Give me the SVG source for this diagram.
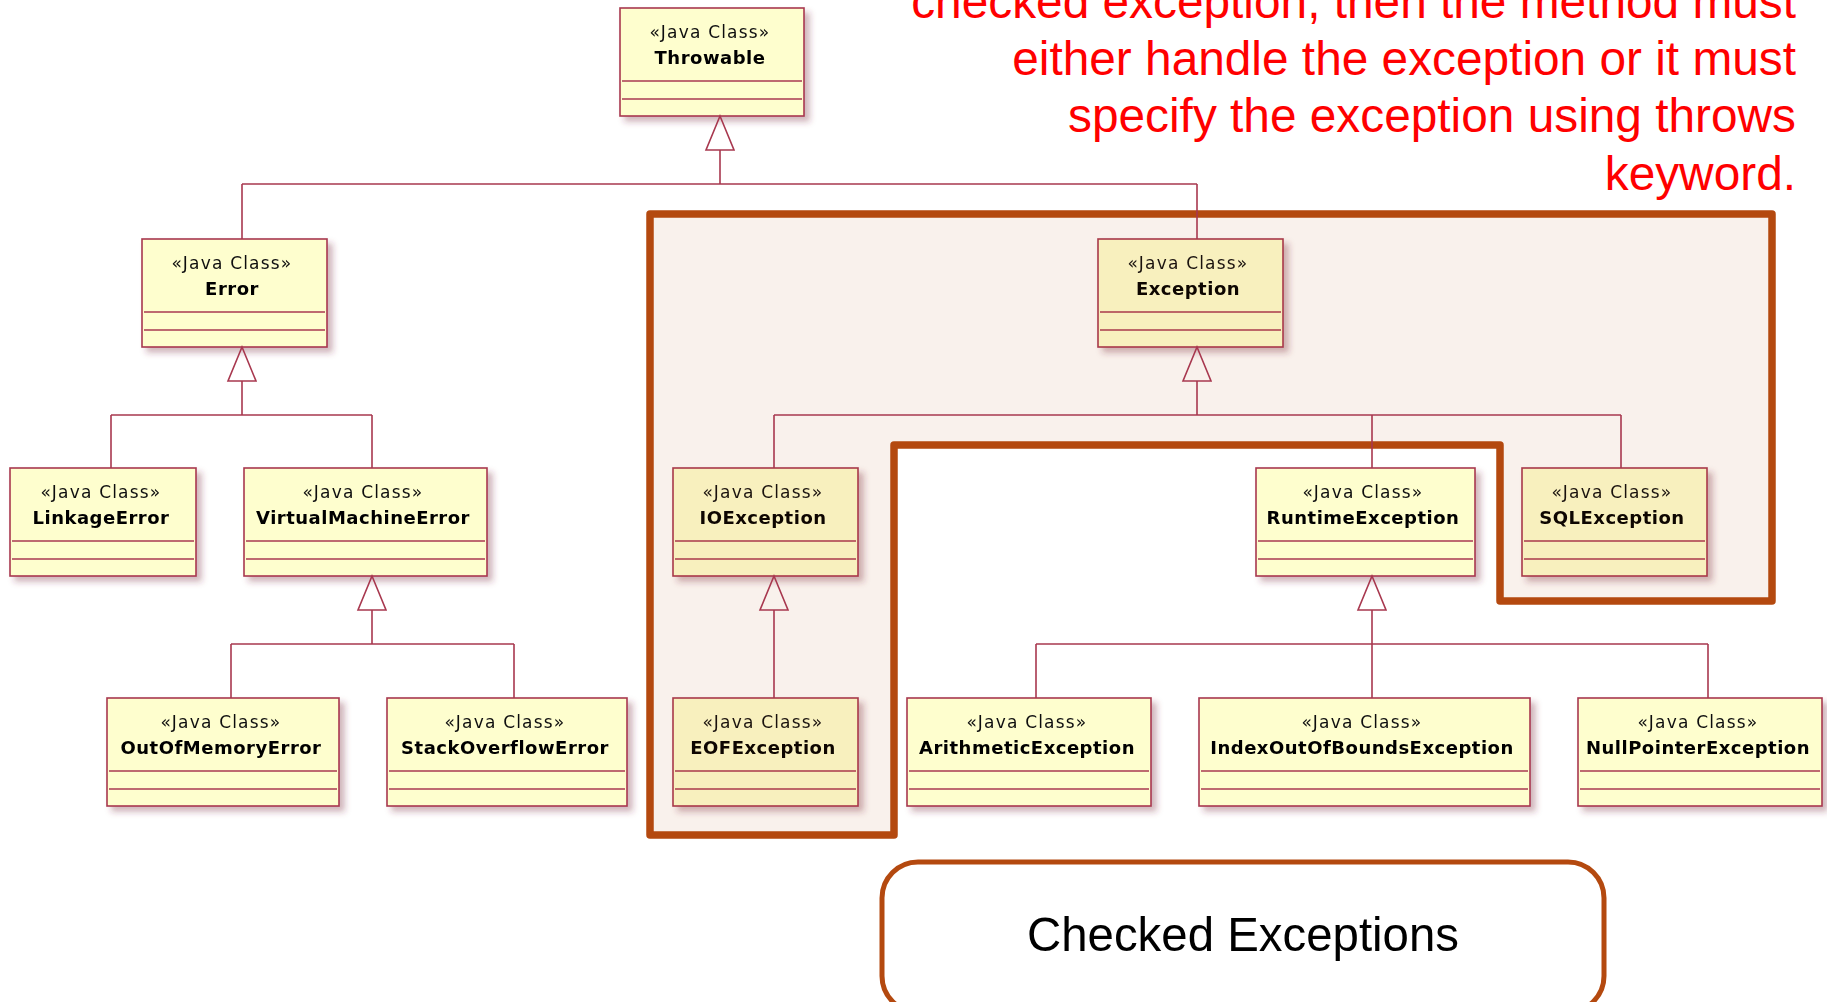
<svg xmlns="http://www.w3.org/2000/svg" width="1827" height="1002" viewBox="0 0 1827 1002">
  <defs>
    <filter id="shadow" x="-10%" y="-10%" width="130%" height="140%">
      <feDropShadow dx="5" dy="5" stdDeviation="3" flood-color="#7a2a3a" flood-opacity="0.35"/>
    </filter>
  </defs>
  <style>
    .box { fill: #FEFECE; stroke: #A8384F; stroke-width: 1.6; }
    .sep { stroke: #A8384F; stroke-width: 1.6; }
    .stereo { font-family: "DejaVu Sans", sans-serif; font-size: 17px; letter-spacing: 1.2px; fill: #111; text-anchor: middle; }
    .name { font-family: "DejaVu Sans", sans-serif; font-size: 18px; font-weight: bold; letter-spacing: 0.5px; fill: #000; text-anchor: middle; }
    .edge { fill: none; stroke: #A8384F; stroke-width: 1.6; }
    .tri { fill: none; stroke: #A8384F; stroke-width: 1.6; stroke-linejoin: miter; }
    .zone { fill: #B4490F; fill-opacity: 0.08; stroke: none; }
    .zone-line { fill: none; stroke: #B4490F; stroke-width: 7.5; stroke-linejoin: round; }
    .note { font-family: "Liberation Sans", Arial, sans-serif; font-size: 47.8px; fill: #FF0000; text-anchor: end; }
    .callout { fill: #FFFFFF; stroke: #B4490F; stroke-width: 5; }
    .callout-text { font-family: "Liberation Sans", Arial, sans-serif; font-size: 49px; fill: #000; text-anchor: middle; }
  </style>

  <rect width="1827" height="1002" fill="#FFFFFF"/>

  <!-- explanatory note, top right -->
  <g id="note">
    <text class="note" x="1796" y="18">checked exception, then the method must</text>
    <text class="note" x="1796" y="75">either handle the exception or it must</text>
    <text class="note" x="1796" y="132">specify the exception using throws</text>
    <text class="note" x="1796" y="190">keyword.</text>
  </g>

  <!-- class nodes: box 108 high, compartments at +73 and +91 -->
  <g id="throwable" filter="url(#shadow)">
    <rect class="box" x="620" y="8" width="184" height="108"/>
    <line class="sep" x1="622" y1="81" x2="802" y2="81"/>
    <line class="sep" x1="622" y1="99" x2="802" y2="99"/>
    <text class="stereo" x="710" y="38">«Java Class»</text>
    <text class="name" x="710" y="64">Throwable</text>
  </g>

  <g id="error" filter="url(#shadow)">
    <rect class="box" x="142" y="239" width="185" height="108"/>
    <line class="sep" x1="144" y1="312" x2="325" y2="312"/>
    <line class="sep" x1="144" y1="330" x2="325" y2="330"/>
    <text class="stereo" x="232" y="269">«Java Class»</text>
    <text class="name" x="232" y="295">Error</text>
  </g>

  <g id="exception" filter="url(#shadow)">
    <rect class="box" x="1098" y="239" width="185" height="108"/>
    <line class="sep" x1="1100" y1="312" x2="1281" y2="312"/>
    <line class="sep" x1="1100" y1="330" x2="1281" y2="330"/>
    <text class="stereo" x="1188" y="269">«Java Class»</text>
    <text class="name" x="1188" y="295">Exception</text>
  </g>

  <g id="linkage-error" filter="url(#shadow)">
    <rect class="box" x="10" y="468" width="186" height="108"/>
    <line class="sep" x1="12" y1="541" x2="194" y2="541"/>
    <line class="sep" x1="12" y1="559" x2="194" y2="559"/>
    <text class="stereo" x="101" y="498">«Java Class»</text>
    <text class="name" x="101" y="524">LinkageError</text>
  </g>

  <g id="virtual-machine-error" filter="url(#shadow)">
    <rect class="box" x="244" y="468" width="243" height="108"/>
    <line class="sep" x1="246" y1="541" x2="485" y2="541"/>
    <line class="sep" x1="246" y1="559" x2="485" y2="559"/>
    <text class="stereo" x="363" y="498">«Java Class»</text>
    <text class="name" x="363" y="524">VirtualMachineError</text>
  </g>

  <g id="io-exception" filter="url(#shadow)">
    <rect class="box" x="673" y="468" width="185" height="108"/>
    <line class="sep" x1="675" y1="541" x2="856" y2="541"/>
    <line class="sep" x1="675" y1="559" x2="856" y2="559"/>
    <text class="stereo" x="763" y="498">«Java Class»</text>
    <text class="name" x="763" y="524">IOException</text>
  </g>

  <g id="runtime-exception" filter="url(#shadow)">
    <rect class="box" x="1256" y="468" width="219" height="108"/>
    <line class="sep" x1="1258" y1="541" x2="1473" y2="541"/>
    <line class="sep" x1="1258" y1="559" x2="1473" y2="559"/>
    <text class="stereo" x="1363" y="498">«Java Class»</text>
    <text class="name" x="1363" y="524">RuntimeException</text>
  </g>

  <g id="sql-exception" filter="url(#shadow)">
    <rect class="box" x="1522" y="468" width="185" height="108"/>
    <line class="sep" x1="1524" y1="541" x2="1705" y2="541"/>
    <line class="sep" x1="1524" y1="559" x2="1705" y2="559"/>
    <text class="stereo" x="1612" y="498">«Java Class»</text>
    <text class="name" x="1612" y="524">SQLException</text>
  </g>

  <g id="out-of-memory-error" filter="url(#shadow)">
    <rect class="box" x="107" y="698" width="232" height="108"/>
    <line class="sep" x1="109" y1="771" x2="337" y2="771"/>
    <line class="sep" x1="109" y1="789" x2="337" y2="789"/>
    <text class="stereo" x="221" y="728">«Java Class»</text>
    <text class="name" x="221" y="754">OutOfMemoryError</text>
  </g>

  <g id="stack-overflow-error" filter="url(#shadow)">
    <rect class="box" x="387" y="698" width="240" height="108"/>
    <line class="sep" x1="389" y1="771" x2="625" y2="771"/>
    <line class="sep" x1="389" y1="789" x2="625" y2="789"/>
    <text class="stereo" x="505" y="728">«Java Class»</text>
    <text class="name" x="505" y="754">StackOverflowError</text>
  </g>

  <g id="eof-exception" filter="url(#shadow)">
    <rect class="box" x="673" y="698" width="185" height="108"/>
    <line class="sep" x1="675" y1="771" x2="856" y2="771"/>
    <line class="sep" x1="675" y1="789" x2="856" y2="789"/>
    <text class="stereo" x="763" y="728">«Java Class»</text>
    <text class="name" x="763" y="754">EOFException</text>
  </g>

  <g id="arithmetic-exception" filter="url(#shadow)">
    <rect class="box" x="907" y="698" width="244" height="108"/>
    <line class="sep" x1="909" y1="771" x2="1149" y2="771"/>
    <line class="sep" x1="909" y1="789" x2="1149" y2="789"/>
    <text class="stereo" x="1027" y="728">«Java Class»</text>
    <text class="name" x="1027" y="754">ArithmeticException</text>
  </g>

  <g id="index-out-of-bounds-exception" filter="url(#shadow)">
    <rect class="box" x="1199" y="698" width="331" height="108"/>
    <line class="sep" x1="1201" y1="771" x2="1528" y2="771"/>
    <line class="sep" x1="1201" y1="789" x2="1528" y2="789"/>
    <text class="stereo" x="1362" y="728">«Java Class»</text>
    <text class="name" x="1362" y="754">IndexOutOfBoundsException</text>
  </g>

  <g id="null-pointer-exception" filter="url(#shadow)">
    <rect class="box" x="1578" y="698" width="244" height="108"/>
    <line class="sep" x1="1580" y1="771" x2="1820" y2="771"/>
    <line class="sep" x1="1580" y1="789" x2="1820" y2="789"/>
    <text class="stereo" x="1698" y="728">«Java Class»</text>
    <text class="name" x="1698" y="754">NullPointerException</text>
  </g>

  <!-- checked-exception zone -->
  <g id="checked-zone">
    <path class="zone" d="M650,214 H1772 V601 H1500 V445 H894 V835 H650 Z"/>
    <path class="zone-line" d="M650,214 H1772 V601 H1500 V445 H894 V835 H650 Z"/>
  </g>

  <!-- generalisation connectors -->
  <g id="connectors">
    <!-- Throwable <- Error, Exception -->
    <polygon class="tri" points="720,116 706,150 734,150"/>
    <path class="edge" d="M720,150 V184 M242,184 H1197 M242,184 V239 M1197,184 V239"/>
    <!-- Error <- LinkageError, VirtualMachineError -->
    <polygon class="tri" points="242,347 228,381 256,381"/>
    <path class="edge" d="M242,381 V415 M111,415 H372 M111,415 V468 M372,415 V468"/>
    <!-- VirtualMachineError <- OutOfMemoryError, StackOverflowError -->
    <polygon class="tri" points="372,576 358,610 386,610"/>
    <path class="edge" d="M372,610 V644 M231,644 H514 M231,644 V698 M514,644 V698"/>
    <!-- Exception <- IOException, RuntimeException, SQLException -->
    <polygon class="tri" points="1197,347 1183,381 1211,381"/>
    <path class="edge" d="M1197,381 V415 M774,415 H1621 M774,415 V468 M1372,415 V468 M1621,415 V468"/>
    <!-- IOException <- EOFException -->
    <polygon class="tri" points="774,576 760,610 788,610"/>
    <path class="edge" d="M774,610 V698"/>
    <!-- RuntimeException <- Arithmetic, IndexOutOfBounds, NullPointer -->
    <polygon class="tri" points="1372,576 1358,610 1386,610"/>
    <path class="edge" d="M1372,610 V644 M1036,644 H1708 M1036,644 V698 M1372,644 V698 M1708,644 V698"/>
  </g>

  <!-- callout label -->
  <g id="callout">
    <rect class="callout" x="882" y="862" width="722" height="150" rx="36" ry="36"/>
    <text class="callout-text" x="1243" y="951" textLength="432" lengthAdjust="spacingAndGlyphs">Checked Exceptions</text>
  </g>
</svg>
